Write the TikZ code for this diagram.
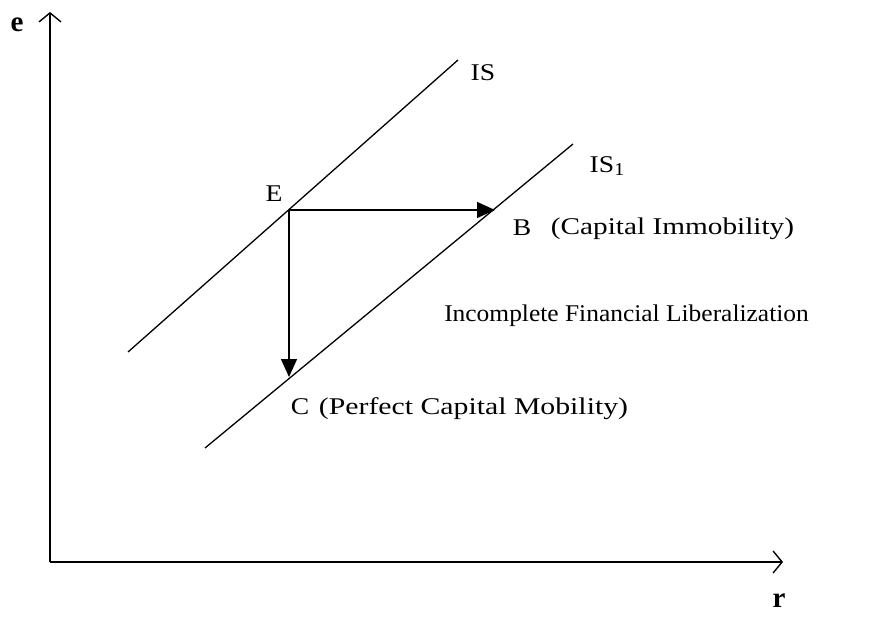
\documentclass[tikz,border=0pt]{standalone}
\usepackage{fontspec}
\setmainfont{Liberation Serif}
\usetikzlibrary{arrows.meta}
\begin{document}
\begin{tikzpicture}[x=1pt,y=-1pt,
  lbl/.style={font=\fontsize{24}{28}\selectfont, inner sep=0pt},
  axlbl/.style={font=\fontsize{29}{33}\selectfont\bfseries, inner sep=0pt},
  axis/.style={line width=1.8pt, -{Straight Barb[length=9pt,width=22pt,line width=1.4pt]}},
  curve/.style={line width=1.3pt},
  move/.style={line width=1.5pt, -{Triangle[length=18pt,width=16pt]}}]
\useasboundingbox (0,0) rectangle (870,618);
% axes
\coordinate (O) at (50,562);
\coordinate (Ytop) at (50,12);
\coordinate (Xend) at (783,562);
\draw[axis] (O) -- (Ytop);
\draw[axis] (O) -- (Xend);
\node[axlbl] (e) at (17,25) {e};
\node[axlbl] (r) at (779,601) {r};
% IS curves
\coordinate (IS0) at (128,352);
\coordinate (IS1e) at (458,60);
\coordinate (JS0) at (205,448);
\coordinate (JS1e) at (573,144);
\draw[curve] (IS0) -- (IS1e);
\draw[curve] (JS0) -- (JS1e);
\node[lbl] (ISl) at (483,73) {\scalebox{1.15}[1]{IS}};
\node[lbl] (IS1l) at (607,166) {\scalebox{1.15}[1]{IS\raisebox{-0.3ex}{\fontsize{18}{22}\selectfont 1}}};
% points
\coordinate (E) at (289,210);
\coordinate (B) at (495,210);
\coordinate (C) at (289,377);
\draw[move] (E) -- (B);
\draw[move] (E) -- (C);
\node[lbl] (El) at (274,194) {\scalebox{1.15}[1]{E}};
\node[lbl] (Bl) at (522,228) {\scalebox{1.15}[1]{B}};
\node[lbl] (Bt) at (672.5,229) {\scalebox{1.22}[1]{(Capital Immobility)}};
\node[lbl] (Cl) at (300,407) {\scalebox{1.15}[1]{C}};
\node[lbl] (Ct) at (473.5,409) {\scalebox{1.24}[1]{(Perfect Capital Mobility)}};
\node[lbl] (Inc) at (626.5,316) {\scalebox{1.06}[1]{Incomplete Financial Liberalization}};
\end{tikzpicture}
\end{document}
